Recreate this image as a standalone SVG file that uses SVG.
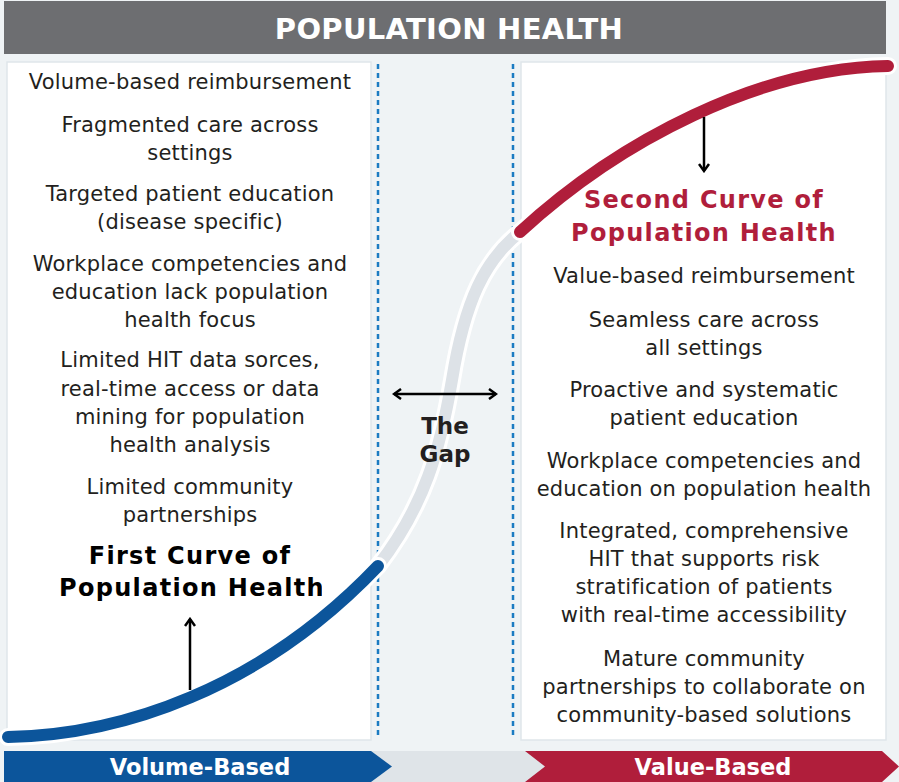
<svg xmlns="http://www.w3.org/2000/svg" width="899" height="782" viewBox="0 0 899 782">
<defs>
<style>
.body{font-family:"DejaVu Sans",Verdana,sans-serif;font-size:21px;letter-spacing:0.2px;fill:#231f20;text-anchor:middle}
.title{font-family:"DejaVu Sans",Verdana,sans-serif;font-size:24px;letter-spacing:1.3px;font-weight:bold;text-anchor:middle}
.gap{font-family:"DejaVu Sans",Verdana,sans-serif;font-size:23px;font-weight:bold;text-anchor:middle;fill:#231f20}
.bar{font-family:"DejaVu Sans",Verdana,sans-serif;font-size:22.5px;font-weight:bold;fill:#fff;text-anchor:middle}
.panel{fill:#fff;stroke:#dfe6ea;stroke-width:1.5}
.dots{stroke:#1b7bc2;stroke-width:2.5;stroke-dasharray:5 4;fill:none}
.halo{fill:none;stroke:#fff;stroke-width:18;stroke-linecap:round}
.arr{stroke:#000;stroke-width:2.5;fill:none}
</style>
<marker id="ah" viewBox="0 0 12 12" refX="10" refY="6" markerWidth="12" markerHeight="12" markerUnits="userSpaceOnUse" orient="auto-start-reverse">
<path d="M3 1 L10 6 L3 11" fill="none" stroke="#000" stroke-width="2.5"/>
</marker>
<clipPath id="lclip"><rect x="0" y="530" width="322" height="80"/></clipPath>
</defs>
<rect x="0" y="0" width="899" height="782" fill="#eff3f5"/>
<g id="header">
<rect x="4" y="1" width="882" height="53" fill="#6d6e71"/>
<text x="449" y="39" font-family="'DejaVu Sans',Verdana,sans-serif" font-size="29" font-weight="bold" fill="#fff" text-anchor="middle" letter-spacing="0.3">POPULATION HEALTH</text>
</g>
<g id="left-panel">
<rect class="panel" x="7" y="62" width="364" height="678"/>
</g>
<g id="right-panel">
<rect class="panel" x="521" y="62" width="365" height="678"/>
</g>
<g id="gap-lines">
<line class="dots" x1="378" y1="64" x2="378" y2="738"/>
<line class="dots" x1="513" y1="64" x2="513" y2="738"/>
</g>
<g id="connectors">
<path class="halo" d="M378 566 C425 505 440 450 452 380 C465 300 485 260 520 232"/>
<path d="M378 566 C425 505 440 450 452 380 C465 300 485 260 520 232" fill="none" stroke="#dde2e7" stroke-width="12" stroke-linecap="round"/>
<path class="halo" d="M8 737 C120 735 260 690 378 566"/>
<path d="M8 737 C120 735 260 690 378 566" fill="none" stroke="#0c559b" stroke-width="12" stroke-linecap="round"/>
<path class="halo" d="M520 232 C620 140 760 68 888 66"/>
<path d="M520 232 C620 140 760 68 888 66" fill="none" stroke="#b01e3b" stroke-width="12" stroke-linecap="round"/>
<line class="arr" x1="190" y1="690" x2="190" y2="619" marker-end="url(#ah)"/>
<line class="arr" x1="704" y1="117" x2="704" y2="171" marker-end="url(#ah)"/>
<line class="arr" x1="394" y1="394" x2="496" y2="394" marker-start="url(#ah)" marker-end="url(#ah)"/>
</g>
<g id="left-text">
<text class="body" x="190" y="89">Volume-based reimbursement</text>
<text class="body" x="190" y="132">Fragmented care across</text>
<text class="body" x="190" y="160">settings</text>
<text class="body" x="190" y="201">Targeted patient education</text>
<text class="body" x="190" y="229">(disease specific)</text>
<text class="body" x="190" y="271">Workplace competencies and</text>
<text class="body" x="190" y="299">education lack population</text>
<text class="body" x="190" y="327">health focus</text>
<text class="body" x="190" y="367">Limited HIT data sorces,</text>
<text class="body" x="190" y="396">real-time access or data</text>
<text class="body" x="190" y="424">mining for population</text>
<text class="body" x="190" y="452">health analysis</text>
<text class="body" x="190" y="494">Limited community</text>
<text class="body" x="190" y="522">partnerships</text>
<g clip-path="url(#lclip)">
<text class="title" x="190" y="564" fill="#000">First Curve of</text>
<text class="title" x="192" y="596" fill="#000">Population Health</text>
</g>
</g>
<g id="gap-label">
<text class="gap" x="445" y="434">The</text>
<text class="gap" x="445" y="462">Gap</text>
</g>
<g id="right-text">
<text class="title" x="704" y="208" fill="#b01e3b">Second Curve of</text>
<text class="title" x="704" y="241" fill="#b01e3b">Population Health</text>
<text class="body" x="704" y="283">Value-based reimbursement</text>
<text class="body" x="704" y="327">Seamless care across</text>
<text class="body" x="704" y="355">all settings</text>
<text class="body" x="704" y="397">Proactive and systematic</text>
<text class="body" x="704" y="425">patient education</text>
<text class="body" x="704" y="468">Workplace competencies and</text>
<text class="body" x="704" y="496">education on population health</text>
<text class="body" x="704" y="538">Integrated, comprehensive</text>
<text class="body" x="704" y="566">HIT that supports risk</text>
<text class="body" x="704" y="594">stratification of patients</text>
<text class="body" x="704" y="622">with real-time accessibility</text>
<text class="body" x="704" y="666">Mature community</text>
<text class="body" x="704" y="694">partnerships to collaborate on</text>
<text class="body" x="704" y="722">community-based solutions</text>
</g>
<g id="bottom-bar">
<rect x="365" y="751" width="190" height="31" fill="#dfe4e8"/>
<polygon points="4,751 371,751 392,766.5 371,782 4,782" fill="#0c559b"/>
<polygon points="525,751 882,751 899,766.5 882,782 525,782 545,766.5" fill="#b01e3b"/>
<text class="bar" x="200" y="775">Volume-Based</text>
<text class="bar" x="713" y="775">Value-Based</text>
</g>
</svg>
